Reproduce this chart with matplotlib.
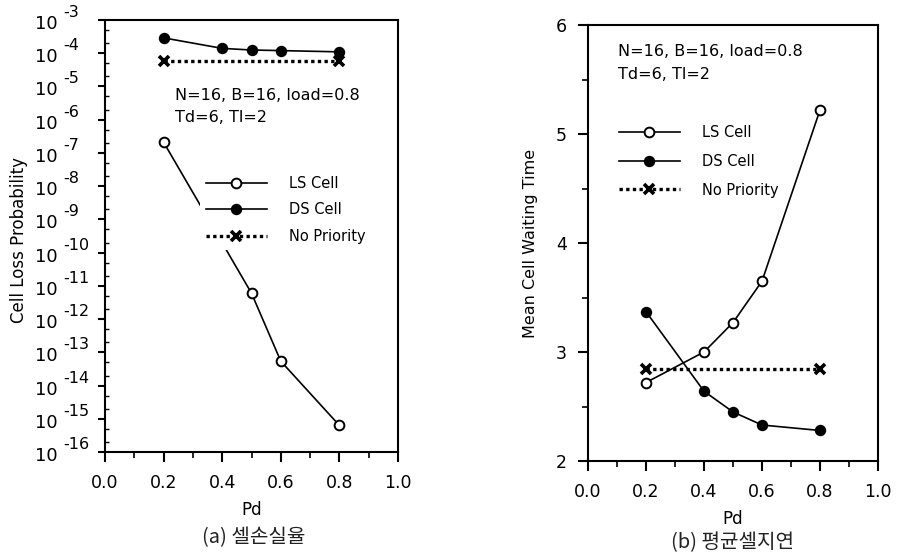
import matplotlib.pyplot as plt
import matplotlib.transforms as mtransforms
from matplotlib.ticker import FixedLocator, FuncFormatter, MultipleLocator, NullFormatter, LogLocator
from matplotlib.lines import Line2D

plt.rcParams['font.family'] = ['DejaVu Sans']
# ------------------------------ #

# Pd values for each series
pdLossLs = [0.2, 0.5, 0.6, 0.8]
pdWaitLs = [0.2, 0.4, 0.5, 0.6, 0.8]
pdDs = [0.2, 0.4, 0.5, 0.6, 0.8]
pdNoPri = [0.2, 0.8]

# (a) cell loss probability
lossLs = [2.1e-7, 6.0e-12, 5.4e-14, 6.3e-16]
lossDs = [2.9e-4, 1.4e-4, 1.25e-4, 1.2e-4, 1.1e-4]
lossNoPri = [5.9e-5, 5.9e-5]

# (b) mean cell waiting time
waitLs = [2.72, 3.00, 3.27, 3.65, 5.22]
waitDs = [3.37, 2.64, 2.45, 2.33, 2.28]
waitNoPri = [2.84, 2.84]

lossExponents = list(range(-16, -2))
paramText = 'N=16, B=16, load=0.8\nTd=6, Tl=2'
seriesNames = ['LS Cell', 'DS Cell', 'No Priority']
captions = ['(a) 셀손실율', '(b) 평균셀지연']
# ------------------------------ #

FIG_W, FIG_H = 897, 556

def px(x, y):
	# pixel position (from top-left) -> figure fraction
	return x / FIG_W, 1 - y / FIG_H
# ------------------------------ #

lsStyle = dict(color='black', lw=1.2, marker='o', ms=7, mfc='white', mew=1.4)
dsStyle = dict(color='black', lw=1.2, marker='o', ms=7, mfc='black', mew=1.2)
npStyle = dict(color='black', lw=2.4, ls=(0, (1, 1)), marker='x', ms=7, mew=2.6)

def legendHandles():
	return [Line2D([], [], **lsStyle), Line2D([], [], **dsStyle), Line2D([], [], **npStyle)]
# ------------------------------ #

def addLegend(ax, x, y, spacing):
	leg = ax.legend(legendHandles(), seriesNames, loc='upper left',
		bbox_to_anchor=px(x, y), bbox_transform=fig.transFigure,
		frameon=True, fontsize=10.5, handlelength=4.2, handletextpad=1.5,
		labelspacing=spacing, borderpad=0.4, borderaxespad=0, fancybox=False)
	leg.get_frame().set_edgecolor('none')
	leg.get_frame().set_facecolor('white')
	leg.get_frame().set_alpha(1.0)
	leg.set_zorder(5)
	return leg
# ------------------------------ #

def styleAxes(ax):
	for spine in ax.spines.values():
		spine.set_linewidth(1.5)
	ax.set_xlim(0, 1.0)
	ax.xaxis.set_major_locator(MultipleLocator(0.2))
	ax.xaxis.set_minor_locator(MultipleLocator(0.1))
	ax.xaxis.set_major_formatter(FuncFormatter(lambda v, p: f'{v:.1f}'))
	ax.tick_params(axis='x', which='major', direction='out', length=7, width=1.5, labelsize=12.5, pad=9)
	ax.tick_params(axis='x', which='minor', direction='out', length=4, width=1.2)
	ax.set_xlabel('Pd', fontsize=12, labelpad=6)
# ------------------------------ #

fig = plt.figure(figsize=(FIG_W / 100, FIG_H / 100), dpi=100)

# (a) loss probability on log scale
x0, y0 = px(105, 452)
axA = fig.add_axes([x0, y0, 293 / FIG_W, 432 / FIG_H])
axA.plot(pdLossLs, lossLs, zorder=3, **lsStyle)
axA.plot(pdDs, lossDs, zorder=3, **dsStyle)
axA.plot(pdNoPri, lossNoPri, zorder=3, **npStyle)
styleAxes(axA)
axA.set_yscale('log')
axA.set_ylim(1e-16, 1e-3)
axA.yaxis.set_major_locator(FixedLocator([10.0 ** e for e in lossExponents]))
axA.yaxis.set_minor_locator(LogLocator(base=10, subs=(2, 5), numticks=50))
axA.yaxis.set_major_formatter(NullFormatter())
axA.yaxis.set_minor_formatter(NullFormatter())
axA.tick_params(axis='y', which='major', direction='out', length=5, width=1.5)
axA.tick_params(axis='y', which='minor', direction='in', length=3, width=1.0)

# log tick labels drawn as "10" plus a raised exponent
blend = mtransforms.blended_transform_factory(axA.transAxes, axA.transData)
baseTr = mtransforms.offset_copy(blend, fig=fig, x=-47, y=-4, units='dots')
expTr = mtransforms.offset_copy(blend, fig=fig, x=-42, y=3, units='dots')
for e in lossExponents:
	axA.text(0, 10.0 ** e, '10', transform=baseTr, ha='right', va='center', fontsize=13, clip_on=False)
	axA.text(0, 10.0 ** e, f'-{abs(e)}', transform=expTr, ha='left', va='baseline', fontsize=11.5, clip_on=False)

axA.set_ylabel('Cell Loss Probability', fontsize=12)
axA.yaxis.set_label_coords(-(105 - 28) / 293, 0.49)
fig.text(*px(175, 88), paramText, fontsize=11.5, va='top', linespacing=1.6)
addLegend(axA, 200, 170, 0.8)

# (b) mean waiting time
x0, y0 = px(588, 461)
axB = fig.add_axes([x0, y0, 290 / FIG_W, 436 / FIG_H])
axB.plot(pdWaitLs, waitLs, zorder=3, **lsStyle)
axB.plot(pdDs, waitDs, zorder=3, **dsStyle)
axB.plot(pdNoPri, waitNoPri, zorder=3, **npStyle)
styleAxes(axB)
axB.set_ylim(2, 6)
axB.yaxis.set_major_locator(MultipleLocator(1))
axB.yaxis.set_minor_locator(MultipleLocator(0.5))
axB.tick_params(axis='y', which='major', direction='out', length=7, width=1.5, labelsize=12.5, pad=8)
axB.tick_params(axis='y', which='minor', direction='out', length=4, width=1.2)
axB.set_ylabel('Mean Cell Waiting Time', fontsize=11.5)
axB.yaxis.set_label_coords(-(588 - 538) / 290, 0.50)
fig.text(*px(618, 44), paramText, fontsize=11.5, va='top', linespacing=1.65)
addLegend(axB, 613, 119, 0.95)

capFont = ['Noto Sans CJK KR', 'DejaVu Sans']
fig.text(*px(254, 538), captions[0], ha='center', va='center', fontsize=14.5, family=capFont, color='#222222')
fig.text(*px(732, 543), captions[1], ha='center', va='center', fontsize=14.5, family=capFont, color='#222222')

plt.savefig('out.png', dpi=100)
